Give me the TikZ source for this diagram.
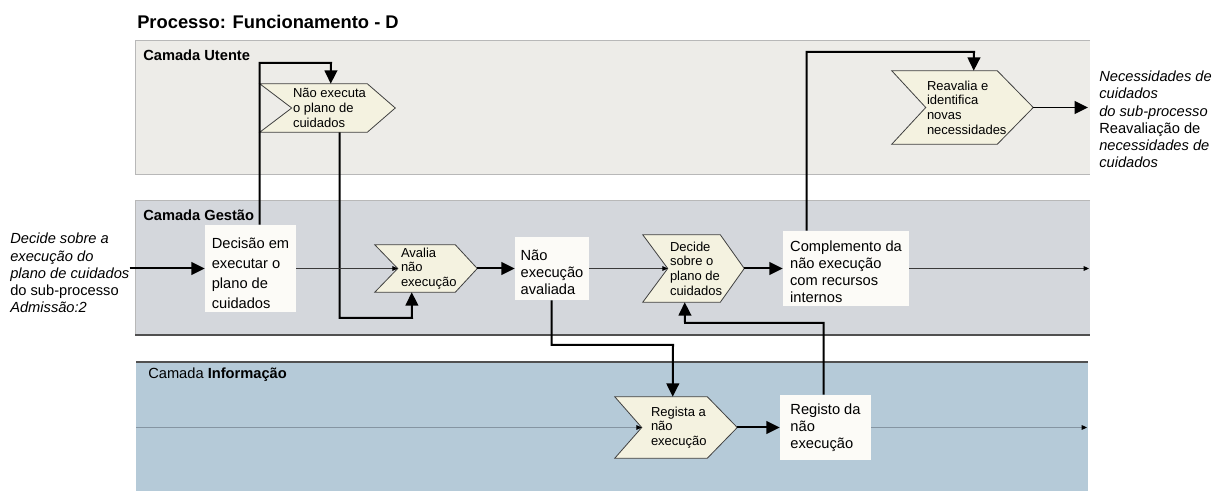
\documentclass[tikz,border=0pt]{standalone}
\usepackage{fontspec}
\setmainfont{Liberation Sans}
\usetikzlibrary{arrows.meta,calc,fit}

\definecolor{laneU}{HTML}{EDECE8}
\definecolor{laneG}{HTML}{D4D7DC}
\definecolor{laneI}{HTML}{B5CAD8}
\definecolor{laneEdge}{HTML}{B8B8B8}
\definecolor{laneDark}{HTML}{505050}
\definecolor{chevFill}{HTML}{F4F2E0}
\definecolor{chevLine}{HTML}{404040}
\definecolor{boxFill}{HTML}{FCFBF7}
\definecolor{flowG}{HTML}{3A3A3A}
\definecolor{flowI}{HTML}{8595A2}

% chevron outline around a fitted node: #2 = notch depth, #3 = tip depth (px)
\newcommand\chevpath[3]{%
  \path[chevshape] (#1.north west) -- ($(#1.north east)+(-#3,0)$) -- (#1.east)
    -- ($(#1.south east)+(-#3,0)$) -- (#1.south west) -- ($(#1.west)+(#2,0)$) -- cycle;}

\begin{document}
\begin{tikzpicture}[x=0.75pt,y=-0.75pt,
  chevshape/.style={fill=chevFill,draw=chevLine,line width=0.6pt},
  chevbox/.style={inner sep=0pt,draw=none},
  chevtext/.style={font=\fontsize{9.75}{11}\selectfont,align=left,anchor=west,inner sep=0pt},
  boxnode/.style={fill=boxFill,inner sep=0pt},
  boxtext/.style={inner sep=0pt,align=left,font=\fontsize{11}{12.75}\selectfont},
  lanelabel/.style={anchor=west,inner sep=0pt,font=\bfseries\fontsize{11}{13}\selectfont},
  sidetext/.style={anchor=west,inner sep=0pt,align=left,font=\fontsize{11}{12.9}\selectfont},
  thickarrow/.style={draw=black,line width=1.5pt,-{Triangle[length=10pt,width=9.5pt]}},
  thinarrow/.style={draw=flowG,line width=0.75pt,-{Triangle[length=4pt,width=3.5pt,color=black]}},
  thininfo/.style={draw=flowI,line width=0.75pt,-{Triangle[length=4pt,width=3.5pt,color=black]}}]

\useasboundingbox (0,0) rectangle (1221,491);

% ---- swimlanes ----
\fill[laneU] (135,41) rectangle (1090,175);
\draw[laneEdge,line width=0.75pt] (1090,41) -- (135,41) -- (135,175) -- (1090,175);
\fill[laneG] (135,201) rectangle (1090,335);
\draw[laneEdge,line width=0.75pt] (1090,201) -- (135,201) -- (135,335);
\draw[laneDark,line width=0.9pt] (135,335) -- (1090,335);
\fill[laneI] (136,362) rectangle (1088,491);
\draw[laneDark,line width=0.9pt] (136,362) -- (1088,362);

% ---- titles ----
\node[anchor=west,inner sep=0pt,font=\bfseries\fontsize{13.75}{16}\selectfont] (title) at (137,22) {Processo: Funcionamento - D};
\node[lanelabel] (lu) at (143,55) {Camada Utente};
\node[lanelabel] (lg) at (143,215) {Camada Gestão};
\node[lanelabel] (li) at (148,375) {\mdseries Camada \bfseries Informação};

% ---- chevrons (activities) ----
\node[chevbox,fit={(260,84) (395,132)}] (nex) {};
\chevpath{nex}{32}{28}
\node[chevtext] (nex-t) at ($(nex.west)+(33,0)$) {Não executa\\o plano de\\cuidados};

\node[chevbox,fit={(375,245) (477,292)}] (ava) {};
\chevpath{ava}{23}{22}
\node[chevtext] (ava-t) at ($(ava.west)+(26,0)$) {Avalia\\não\\execução};

\node[chevbox,fit={(643,235) (744,302)}] (dcd) {};
\chevpath{dcd}{25}{24}
\node[chevtext] (dcd-t) at ($(dcd.west)+(27,0)$) {Decide\\sobre o\\plano de\\cuidados};

\node[chevbox,fit={(892,71) (1033,144)}] (rea) {};
\chevpath{rea}{34}{36}
\node[chevtext] (rea-t) at ($(rea.west)+(35,0)$) {Reavalia e\\identifica\\novas\\necessidades};

\node[chevbox,fit={(615,397) (737,458)}] (rgt) {};
\chevpath{rgt}{27}{30}
\node[chevtext] (rgt-t) at ($(rgt.west)+(36,0)$) {Regista a\\não\\execução};

% ---- result boxes ----
\node[boxnode,fit={(205,225) (296,312)}] (dec) {};
\node[boxtext,font=\fontsize{11}{15}\selectfont] (dec-t) at ($(dec.center)+(0,5)$) {Decisão em\\executar o\\plano de\\cuidados};
\node[boxnode,fit={(515,237) (589,300)}] (nea) {};
\node[boxtext] (nea-t) at ($(nea.center)+(0,4)$) {Não\\execução\\avaliada};
\node[boxnode,fit={(783,231) (909,306)}] (comp) {};
\node[boxtext] (comp-t) at ($(comp.center)+(0,3)$) {Complemento da\\não execução\\com recursos\\internos};
\node[boxnode,fit={(780,395) (871,460)}] (reg) {};
\node[boxtext] (reg-t) at (reg.center) {Registo da\\não\\execução};

% ---- external texts ----
\node[sidetext] (inp) at (10,273) {\itshape Decide sobre a\\\itshape execução do\\\itshape plano de cuidados\\do sub-processo\\\itshape Admissão:2};
\node[sidetext] (outp) at (1099,119.5) {\itshape Necessidades de\\\itshape cuidados\\\itshape do sub-processo\\Reavaliação de\\\itshape necessidades de\\\itshape cuidados};

\coordinate (gOut) at (1089,268.5);
\coordinate (uOut) at (1088,107.5);
\coordinate (iIn) at (136,427.5);
\coordinate (iOut) at (1087,427.5);

% ---- connectors ----
\draw[thickarrow] (inp.east |- dec.west) -- (dec.west);
\draw[thickarrow] ($(dec.north west)+(55,0)$) |- (331,63) -- ($(nex.north west)+(71,0)$);
\draw[thickarrow] ($(nex.south west)+(80,0)$) |- (412,318) -- ($(ava.south west)+(37,0)$);
\draw[thinarrow] (dec.east) -- ($(ava.west)+(23,0)$);
\draw[thickarrow] (ava.east) -- (nea.west);
\draw[thinarrow] (nea.east) -- ($(dcd.west)+(25,0)$);
\draw[thickarrow] (dcd.east) -- (comp.west);
\draw[thinarrow] (comp.east) -- (gOut);
\draw[thickarrow] ($(comp.north west)+(24,0)$) |- (974,52) -- ($(rea.north west)+(82,0)$);
\draw[thickarrow,line width=1.2pt] (rea.east) -- (uOut);
\draw[thickarrow] ($(nea.south west)+(37,0)$) |- (673,345) -- ($(rgt.north west)+(58,0)$);
\draw[thininfo] (iIn) -- ($(rgt.west)+(27,0)$);
\draw[thickarrow] (rgt.east) -- (reg.west);
\draw[thininfo] (reg.east) -- (iOut);
\draw[thickarrow] ($(reg.north west)+(44,0)$) |- (685,323) -- ($(dcd.south west)+(42,0)$);

\end{tikzpicture}
\end{document}
